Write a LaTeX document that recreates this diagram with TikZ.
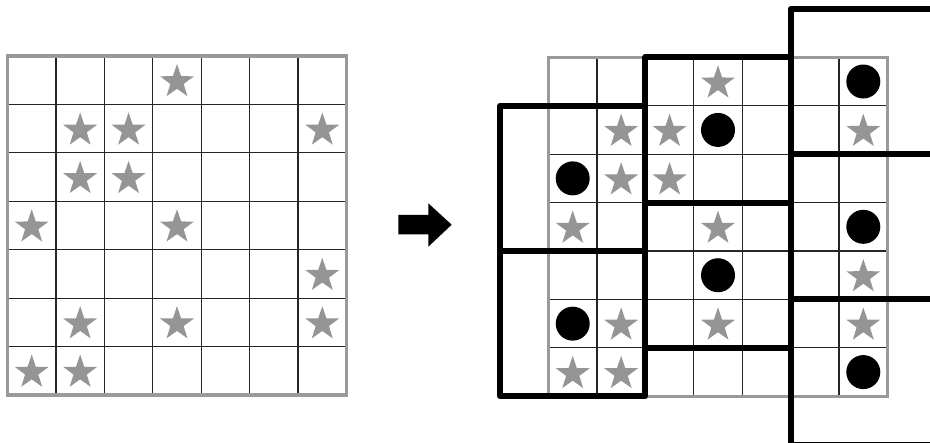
\documentclass[tikz,border=0pt]{standalone}
\usetikzlibrary{shapes.geometric}
\definecolor{stargray}{HTML}{959595}
\definecolor{bordergray}{HTML}{9A9A9A}
\tikzset{
  gridline/.style={line width=1.2pt, black!85},
  gridborder/.style={line width=3.5pt, bordergray},
  regionline/.style={line width=6pt, black, line join=round},
  starmark/.style={star, star points=5, star point ratio=2.55, fill=stargray, draw=none, minimum size=35.6pt, inner sep=0pt},
  dotmark/.style={circle, fill=black, draw=none, minimum size=34pt, inner sep=0pt},
  arrowshape/.style={fill=black}
}
\newcommand{\drawpuzzlegrid}[2]{%
  \foreach \i in {1,...,6} {
    \draw[gridline] ({#1+\i*48.43},#2) -- ({#1+\i*48.43},{#2+7*48.43});
    \draw[gridline] (#1,{#2+\i*48.43}) -- ({#1+7*48.43},{#2+\i*48.43});
  }
  \draw[gridborder] (#1,#2) rectangle ({#1+7*48.43},{#2+7*48.43});
}
\begin{document}
\begin{tikzpicture}[x=1pt,y=-1pt]
\useasboundingbox (0,0) rectangle (930,443);
\clip (0,0) rectangle (930,443);
\fill[white] (0,0) rectangle (930,443);

% left grid
\drawpuzzlegrid{7.5}{56}
\foreach \cx/\cy in {3/0,1/1,2/1,6/1,1/2,2/2,0/3,3/3,6/4,1/5,3/5,6/5,0/6,1/6} {
  \node[starmark] (ls-\cx-\cy) at ({7.5+(\cx+0.5)*48.43},{56+(\cy+0.5)*48.43+1.6}) {};
}

% arrow
\coordinate (a1) at (398.3,215);
\coordinate (a2) at (428.3,215);
\coordinate (a3) at (428.3,203.3);
\coordinate (a4) at (451.7,224.7);
\coordinate (a5) at (428.3,246.7);
\coordinate (a6) at (428.3,234.3);
\coordinate (a7) at (398.3,234.3);
\fill[arrowshape] (a1) -- (a2) -- (a3) -- (a4) -- (a5) -- (a6) -- (a7) -- cycle;

% right grid
\drawpuzzlegrid{548.5}{57.3}
\foreach \cx/\cy in {3/0,1/1,2/1,6/1,1/2,2/2,0/3,3/3,6/4,1/5,3/5,6/5,0/6,1/6} {
  \node[starmark] (rs-\cx-\cy) at ({548.5+(\cx+0.5)*48.43},{57.3+(\cy+0.5)*48.43+1.6}) {};
}
\foreach \cx/\cy in {6/0,3/1,0/2,6/3,3/4,0/5,6/6} {
  \node[dotmark] (rd-\cx-\cy) at ({548.5+(\cx+0.5)*48.43},{57.3+(\cy+0.5)*48.43}) {};
}

% region outlines
\draw[regionline] (500.07,105.73) rectangle (645.36,251.02);
\draw[regionline] (500.07,251.02) rectangle (645.36,396.31);
\draw[regionline] (645.36,57.3) rectangle (790.65,202.59);
\draw[regionline] (645.36,202.59) rectangle (790.65,347.88);
\draw[regionline] (790.65,8.87) rectangle (935.94,154.16);
\draw[regionline] (790.65,154.16) rectangle (935.94,299.45);
\draw[regionline] (790.65,299.45) rectangle (935.94,444.74);
\end{tikzpicture}
\end{document}
